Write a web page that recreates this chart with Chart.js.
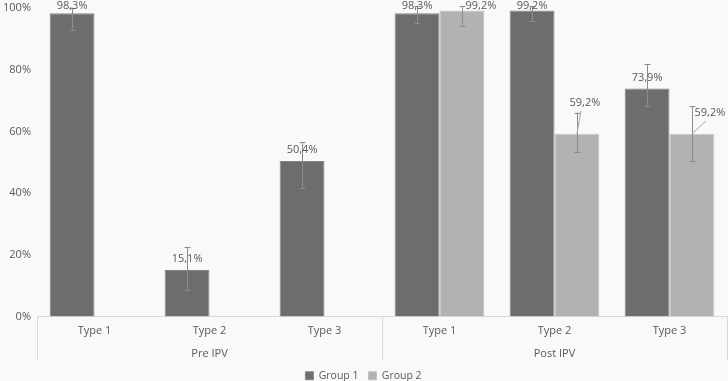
<!DOCTYPE html>
<html>
<head>
<meta charset="utf-8">
<script src="https://cdn.jsdelivr.net/npm/chart.js@4/dist/chart.umd.min.js"></script>
<style>
  html, body { margin: 0; padding: 0; background: #f9f9f9; }
  #wrap { width: 728px; height: 381px; }
</style>
</head>
<body>
<div id="wrap"><canvas id="ch1"></canvas></div>
<script>
// data
var types = ['Type 1', 'Type 2', 'Type 3', 'Type 1', 'Type 2', 'Type 3'];
var phases = ['Pre IPV', 'Post IPV'];
var group1 = [98.3, 15.1, 50.4, 98.3, 99.2, 73.9];
var group2 = [null, null, null, 99.2, 59.2, 59.2];
var group1Plus = [1.8, 7.3, 6.1, 2.4, 1.5, 8.0];
var group1Minus = [5.4, 6.5, 8.8, 3.3, 3.5, 5.6];
var group2Plus = [null, null, null, 1.3, 6.9, 9.0];
var group2Minus = [null, null, null, 4.9, 5.9, 8.9];
var yTicks = [0, 20, 40, 60, 80, 100];

var txt = '#595959';
var font = { family: '"Open Sans", sans-serif', size: 11 };

// label nudges (px) for the callouts that sit beside their bar
var labelShift = {
  '1-3': { dx: 19, dy: 0, line: false },
  '1-4': { dx: 8, dy: -20, line: true },
  '1-5': { dx: 18, dy: -10, line: true }
};

var errorBars = {
  id: 'errorBars',
  afterDatasetsDraw: function(chart) {
    var ctx = chart.ctx, y = chart.scales.y;
    var plus = [group1Plus, group2Plus], minus = [group1Minus, group2Minus];
    ctx.save();
    ctx.strokeStyle = '#8c8c8c';
    ctx.lineWidth = 1;
    chart.data.datasets.forEach(function(ds, di) {
      chart.getDatasetMeta(di).data.forEach(function(bar, i) {
        if (ds.data[i] == null) return;
        var top = y.getPixelForValue(ds.data[i] + plus[di][i]);
        var bot = y.getPixelForValue(ds.data[i] - minus[di][i]);
        var x = Math.round(bar.x) + 0.5;
        ctx.beginPath();
        ctx.moveTo(x, top); ctx.lineTo(x, bot);
        ctx.moveTo(x - 3, Math.round(top) + 0.5); ctx.lineTo(x + 3, Math.round(top) + 0.5);
        ctx.moveTo(x - 3, Math.round(bot) + 0.5); ctx.lineTo(x + 3, Math.round(bot) + 0.5);
        ctx.stroke();
      });
    });
    // value labels
    ctx.font = font.size + 'px ' + font.family;
    ctx.fillStyle = txt;
    ctx.textAlign = 'center';
    ctx.textBaseline = 'middle';
    chart.data.datasets.forEach(function(ds, di) {
      chart.getDatasetMeta(di).data.forEach(function(bar, i) {
        if (ds.data[i] == null) return;
        var s = labelShift[di + '-' + i] || { dx: 0, dy: 0, line: false };
        var lx = bar.x + s.dx;
        var ly = Math.max(bar.y - 11, 6) + s.dy;
        if (s.line) {
          ctx.beginPath();
          ctx.strokeStyle = '#a6a6a6';
          ctx.moveTo(bar.x, bar.y);
          ctx.lineTo(lx - 4, ly + 8);
          ctx.stroke();
        }
        ctx.fillText(ds.data[i].toFixed(1).replace('.', ',') + '%', lx, ly);
      });
    });
    ctx.restore();
  },
  afterDraw: function(chart) {
    var ctx = chart.ctx, x = chart.scales.x, x2 = chart.scales.x2;
    var xs = [x.left, (x.getPixelForValue(2) + x.getPixelForValue(3)) / 2, x.right];
    ctx.save();
    ctx.strokeStyle = '#d9d9d9';
    ctx.lineWidth = 1;
    xs.forEach(function(px) {
      px = Math.round(px) + 0.5;
      ctx.beginPath();
      ctx.moveTo(px, x.top);
      ctx.lineTo(px, x2.bottom);
      ctx.stroke();
    });
    ctx.restore();
  }
};

var c = document.getElementById('ch1').getContext('2d');
var myChart = new Chart(c, {
  type: 'bar',
  data: {
    labels: types,
    datasets: [{
      label: 'Group 1',
      data: group1,
      backgroundColor: '#6d6d6d',
      borderColor: '#858585',
      borderWidth: 1
    }, {
      label: 'Group 2',
      data: group2,
      backgroundColor: '#b2b2b2',
      borderColor: '#c2c2c2',
      borderWidth: 1
    }]
  },
  options: {
    responsive: true,
    maintainAspectRatio: false,
    animation: false,
    layout: { padding: { top: 8, right: 1, left: 0, bottom: -10 } },
    datasets: { bar: { categoryPercentage: 0.78, barPercentage: 1.0 } },
    plugins: {
      legend: {
        position: 'bottom',
        labels: {
          color: txt, font: { family: font.family, size: 10.5 },
          usePointStyle: true, pointStyle: 'rect',
          boxWidth: 8, boxHeight: 8, padding: 10
        }
      },
      tooltip: { enabled: false }
    },
    scales: {
      y: {
        min: 0, max: 100,
        afterBuildTicks: function(s) { s.ticks = yTicks.map(function(v) { return { value: v }; }); },
        afterFit: function(s) { s.width = 37; s.paddingTop = 0; s.paddingBottom = 0; },
        grid: { display: false, drawTicks: false },
        border: { display: false },
        ticks: { color: txt, font: font, padding: 6, callback: function(v) { return v + '%'; } }
      },
      x: {
        grid: { display: false, drawTicks: false },
        border: { display: true, color: '#d9d9d9' },
        afterFit: function(s) { s.height = 23; },
        ticks: { color: txt, font: font, padding: 8 }
      },
      x2: {
        type: 'category',
        labels: phases,
        position: 'bottom',
        offset: true,
        grid: { display: false, drawTicks: false },
        border: { display: false },
        afterFit: function(s) { s.height = 21; },
        ticks: { color: txt, font: font, padding: 8 }
      }
    }
  },
  plugins: [errorBars]
});
</script>
</body>
</html>
